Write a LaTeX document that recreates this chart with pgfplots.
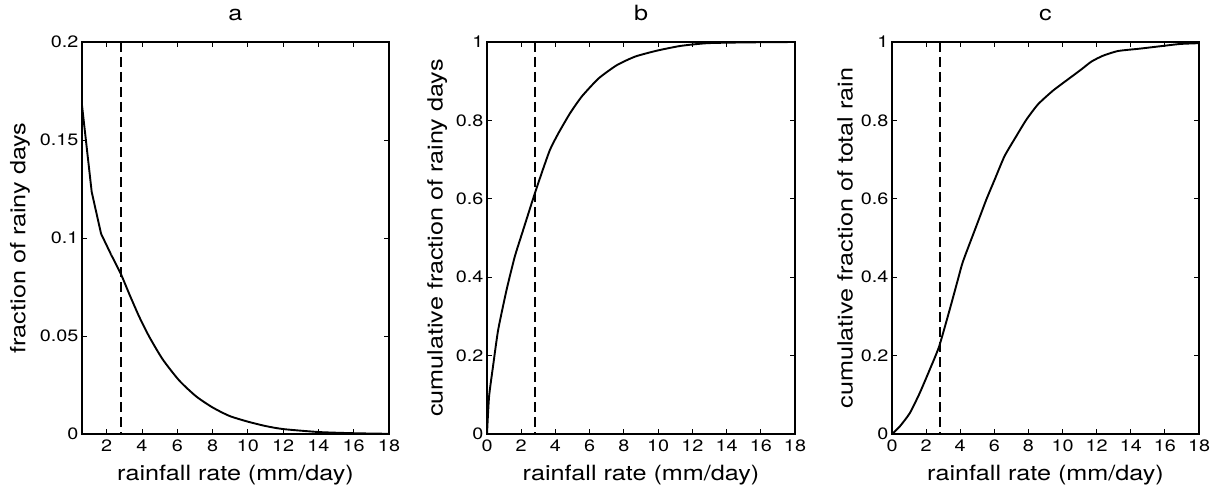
\documentclass[border=0pt]{standalone}
\usepackage{fontspec}
\setmainfont{TeX Gyre Heros}[FakeStretch=1.2]
\usepackage{pgfplots}
\pgfplotsset{compat=1.18}

\pgfplotsset{
  rain/.style={
    scale only axis,
    width=307pt, height=392pt,
    xmax=18,
    xtick={0,2,...,18},
    tick align=inside,
    major tick length=5pt,
    axis line style={line width=1.1pt},
    every tick/.style={black, line width=0.9pt},
    tick label style={font=\fontsize{16.5}{19}\selectfont},
    label style={font=\fontsize{21}{25}\selectfont},
    title style={font=\fontsize{21}{25}\selectfont, at={(0.5,1)}, anchor=base, yshift=15pt},
    xlabel style={at={(axis description cs:0.5,0)}, anchor=base, yshift=-46pt},
    xticklabel style={yshift=-2pt},
    /pgf/number format/assume math mode=true,
    scaled ticks=false,
    clip=false,
  },
  curve/.style={black, line width=1.9pt, line join=round},
  thresh/.style={black, line width=1.6pt, dash pattern=on 10pt off 5pt},
}

\begin{document}
\begin{tikzpicture}
\useasboundingbox (0,0) rectangle (1231pt,493pt);

% a
\begin{axis}[rain, at={(82pt,59pt)}, anchor=south west,
  title={a},
  xmin=0.6, ymin=0, ymax=0.2,
  xtick={2,4,...,18},
  ytick={0,0.05,0.1,0.15,0.2},
  yticklabels={0,0.05,0.1,0.15,0.2},
  xlabel={rainfall rate (mm/day)},
  ylabel={fraction of rainy days},
  ylabel style={at={(axis description cs:-0.202,0.5)}, anchor=center},
]
\addplot[thresh] coordinates {(2.8,0.2) (2.8,0)};
\addplot[curve] coordinates {
  (0.60,0.1677) (1.15,0.1235) (1.68,0.1022) (2.25,0.0915)
};
\addplot[curve, smooth, tension=0.4] coordinates {
  (2.25,0.0915) (2.81,0.0815) (3.29,0.0712) (3.85,0.0597) (4.42,0.0495)
  (5.18,0.0380) (6.12,0.0272) (7.07,0.0192) (8.01,0.0135) (8.96,0.0092)
  (10.04,0.0062) (11.04,0.0040) (12.02,0.0025) (14.03,0.0010)
  (16.01,0.0004) (18,0.0001)
};
\end{axis}

% b
\begin{axis}[rain, at={(487pt,59pt)}, anchor=south west, width=308pt,
  title={b},
  xmin=0, ymin=0, ymax=1,
  ytick={0,0.2,...,1},
  yticklabels={0,0.2,0.4,0.6,0.8,1},
  xlabel={rainfall rate (mm/day)},
  ylabel={cumulative fraction of rainy days},
  ylabel style={at={(axis description cs:-0.162,0.5)}, anchor=center},
]
\addplot[thresh] coordinates {(2.8,1) (2.8,0)};
\addplot[curve, smooth, tension=0.35] coordinates {
  (0,0) (0.12,0.095) (0.35,0.172) (0.65,0.265) (1.14,0.367) (1.62,0.452)
  (2.11,0.52) (2.70,0.601) (3.19,0.665) (3.68,0.725) (4.17,0.767)
  (4.85,0.818) (5.54,0.861) (6.52,0.907) (7.59,0.941) (8.67,0.963)
  (9.94,0.978) (11.31,0.990) (12.88,0.997) (15.2,0.999) (18,1.0)
};
\end{axis}

% c
\begin{axis}[rain, at={(892pt,59pt)}, anchor=south west,
  title={c},
  xmin=0, ymin=0, ymax=1,
  ytick={0,0.2,...,1},
  yticklabels={0,0.2,0.4,0.6,0.8,1},
  xlabel={rainfall rate (mm/day)},
  ylabel={cumulative fraction of total rain},
  ylabel style={at={(axis description cs:-0.153,0.5)}, anchor=center},
]
\addplot[thresh] coordinates {(2.8,1) (2.8,0)};
\addplot[curve, smooth, tension=0.35] coordinates {
  (0,0) (0.45,0.019) (1.04,0.053) (1.62,0.104) (2.21,0.164) (2.76,0.223)
  (3.38,0.317) (3.87,0.395) (4.16,0.44) (4.94,0.53) (5.53,0.598)
  (6.02,0.649) (6.6,0.709) (7.29,0.76) (7.88,0.802) (8.56,0.841)
  (9.44,0.876) (10.42,0.908) (11.1,0.930) (11.69,0.950) (12.37,0.965)
  (13.25,0.977) (14.52,0.983) (15.89,0.990) (16.9,0.995) (18,0.997)
};
\end{axis}
\end{tikzpicture}
\end{document}
